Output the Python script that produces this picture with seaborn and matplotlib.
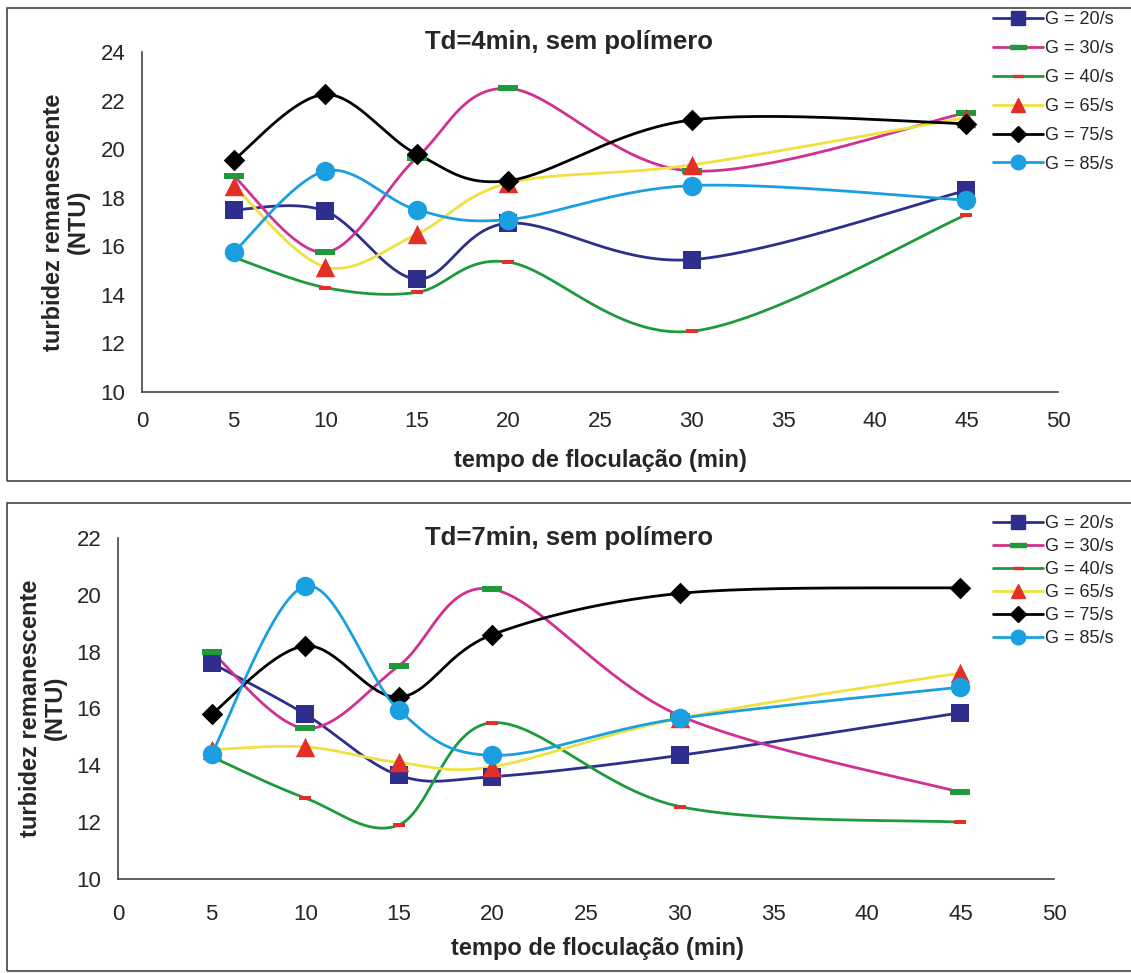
import numpy as np
import pandas as pd
import matplotlib
matplotlib.use("Agg")
import matplotlib.pyplot as plt
from matplotlib.lines import Line2D
from matplotlib.patches import Rectangle
import seaborn as sns

# flocculation time (min)
tempo = [5, 10, 15, 20, 30, 45]
series_labels = ["G = 20/s", "G = 30/s", "G = 40/s", "G = 65/s", "G = 75/s", "G = 85/s"]

# Td = 4 min, sem polímero
td4_g20 = [17.5, 17.45, 14.65, 16.95, 15.45, 18.3]
td4_g30 = [18.9, 15.75, 19.65, 22.5, 19.1, 21.5]
td4_g40 = [15.55, 14.3, 14.1, 15.35, 12.5, 17.3]
td4_g65 = [18.5, 15.15, 16.5, 18.6, 19.35, 21.3]
td4_g75 = [19.55, 22.25, 19.8, 18.7, 21.2, 21.05]
td4_g85 = [15.75, 19.1, 17.5, 17.1, 18.5, 17.9]

# Td = 7 min, sem polímero
td7_g20 = [17.6, 15.8, 13.65, 13.6, 14.35, 15.85]
td7_g30 = [18.0, 15.3, 17.5, 20.2, 15.75, 13.05]
td7_g40 = [14.3, 12.85, 11.9, 15.5, 12.55, 12.0]
td7_g65 = [14.55, 14.65, 14.1, 13.95, 15.65, 17.25]
td7_g75 = [15.8, 18.2, 16.4, 18.6, 20.05, 20.25]
td7_g85 = [14.4, 20.3, 15.95, 14.35, 15.65, 16.75]

line_colors = ["#2e2e8c", "#d0308f", "#1e9a3c", "#f0e040", "#000000", "#1aa0e0"]
marker_colors = ["#2e2e8c", "#1e9a3c", "#e03028", "#e03028", "#000000", "#1aa0e0"]
dash = [(-1, -0.3), (1, -0.3), (1, 0.3), (-1, 0.3), (-1, -0.3)]
markers = ["s", dash, dash, "^", "D", "o"]
msizes = [13, 15, 9, 14, 11, 14]


def smooth_curve(xs, ys, sx, sy, n=40):
    # Excel-style smoothed line: cubic Bezier through points, computed in pixel space
    p = np.column_stack([np.asarray(xs, float) * sx, np.asarray(ys, float) * sy])
    ext = np.vstack([p[0], p, p[-1]])
    out = []
    for i in range(len(p) - 1):
        p0, p1, p2, p3 = ext[i], ext[i + 1], ext[i + 2], ext[i + 3]
        c1 = p1 + (p2 - p0) / 6.0
        c2 = p2 - (p3 - p1) / 6.0
        t = np.linspace(0, 1, n)[:, None]
        seg = (1 - t) ** 3 * p1 + 3 * (1 - t) ** 2 * t * c1 + 3 * (1 - t) * t ** 2 * c2 + t ** 3 * p2
        out.append(seg if i == 0 else seg[1:])
    out = np.vstack(out)
    return out[:, 0] / sx, out[:, 1] / sy


def draw_panel(ax, data, ylim, yticks, sx, sy, xpad):
    for i, (vals, label) in enumerate(zip(data, series_labels)):
        cx, cy = smooth_curve(tempo, vals, sx, sy)
        curve = pd.DataFrame({"x": cx, "y": cy})
        sns.lineplot(data=curve, x="x", y="y", ax=ax, color=line_colors[i], lw=2,
                     estimator=None, sort=False, zorder=2)
        pts = pd.DataFrame({"x": tempo, "y": vals})
        sns.scatterplot(data=pts, x="x", y="y", ax=ax, marker=markers[i],
                        color=marker_colors[i], s=msizes[i] ** 2, linewidth=0, zorder=3)
    ax.set_xlim(0, 50)
    ax.set_ylim(*ylim)
    ax.set_xticks(range(0, 51, 5))
    ax.set_yticks(yticks)
    ax.tick_params(axis="both", labelsize=16, length=6, width=1.1, color="#333333", pad=6)
    ax.tick_params(axis="x", pad=xpad)
    for s in ["top", "right"]:
        ax.spines[s].set_visible(False)
    for s in ["left", "bottom"]:
        ax.spines[s].set_color("#444444")
        ax.spines[s].set_linewidth(1.2)
    ax.set_xlabel("")
    ax.set_ylabel("")
    ax.set_facecolor("white")


sns.set_style("white")
plt.rcParams["font.family"] = ["Liberation Sans", "DejaVu Sans"]

W, H = 1131, 973
fig = plt.figure(figsize=(W / 100, H / 100), dpi=100)

# frames around each chart
fig.patches.append(Rectangle((7 / W, 1 - 481 / H), 1.2, 473 / H, transform=fig.transFigure,
                             fill=False, ec="#444444", lw=1.2, zorder=0))
fig.patches.append(Rectangle((7 / W, 1 - 971 / H), 1.2, 468 / H, transform=fig.transFigure,
                             fill=False, ec="#444444", lw=1.2, zorder=0))

ax1 = fig.add_axes([142 / W, 1 - 392 / H, 916 / W, 340 / H])
ax2 = fig.add_axes([118 / W, 1 - 879 / H, 936 / W, 341 / H])

draw_panel(ax1, [td4_g20, td4_g30, td4_g40, td4_g65, td4_g75, td4_g85],
           (10, 24), range(10, 25, 2), 916 / 50, 340 / 14, 8)
draw_panel(ax2, [td7_g20, td7_g30, td7_g40, td7_g65, td7_g75, td7_g85],
           (10, 22), range(10, 23, 2), 936 / 50, 341 / 12, 12)

# titles and axis labels
fig.text(569 / W, 1 - 42 / H, "Td=4min, sem polímero", ha="center", va="center",
         fontsize=18.5, fontweight="bold")
fig.text(569 / W, 1 - 538 / H, "Td=7min, sem polímero", ha="center", va="center",
         fontsize=18.5, fontweight="bold")
fig.text(600 / W, 1 - 460 / H, "tempo de floculação (min)", ha="center", va="center",
         fontsize=17, fontweight="bold")
fig.text(597 / W, 1 - 948 / H, "tempo de floculação (min)", ha="center", va="center",
         fontsize=17, fontweight="bold")
fig.text(66 / W, 1 - 222 / H, "turbidez remanescente\n(NTU)", ha="center", va="center",
         rotation=90, fontsize=17, fontweight="bold", linespacing=1.15)
fig.text(43 / W, 1 - 708 / H, "turbidez remanescente\n(NTU)", ha="center", va="center",
         rotation=90, fontsize=17, fontweight="bold", linespacing=1.15)

# legends
handles = [Line2D([0], [0], color=line_colors[i], lw=2, marker=markers[i],
                  markerfacecolor=marker_colors[i], markeredgecolor=marker_colors[i],
                  markersize=msizes[i] * 0.75)
           for i in range(len(series_labels))]
fig.legend(handles, series_labels, loc="upper left", bbox_to_anchor=(986 / W, 1 - 4 / H),
           frameon=False, fontsize=13, handlelength=2.75, handletextpad=0.1,
           labelspacing=0.66, numpoints=1, borderaxespad=0)
fig.legend(handles, series_labels, loc="upper left", bbox_to_anchor=(986 / W, 1 - 508 / H),
           frameon=False, fontsize=13, handlelength=2.75, handletextpad=0.1,
           labelspacing=0.33, numpoints=1, borderaxespad=0)

fig.savefig("out.png", dpi=100, facecolor="white")
